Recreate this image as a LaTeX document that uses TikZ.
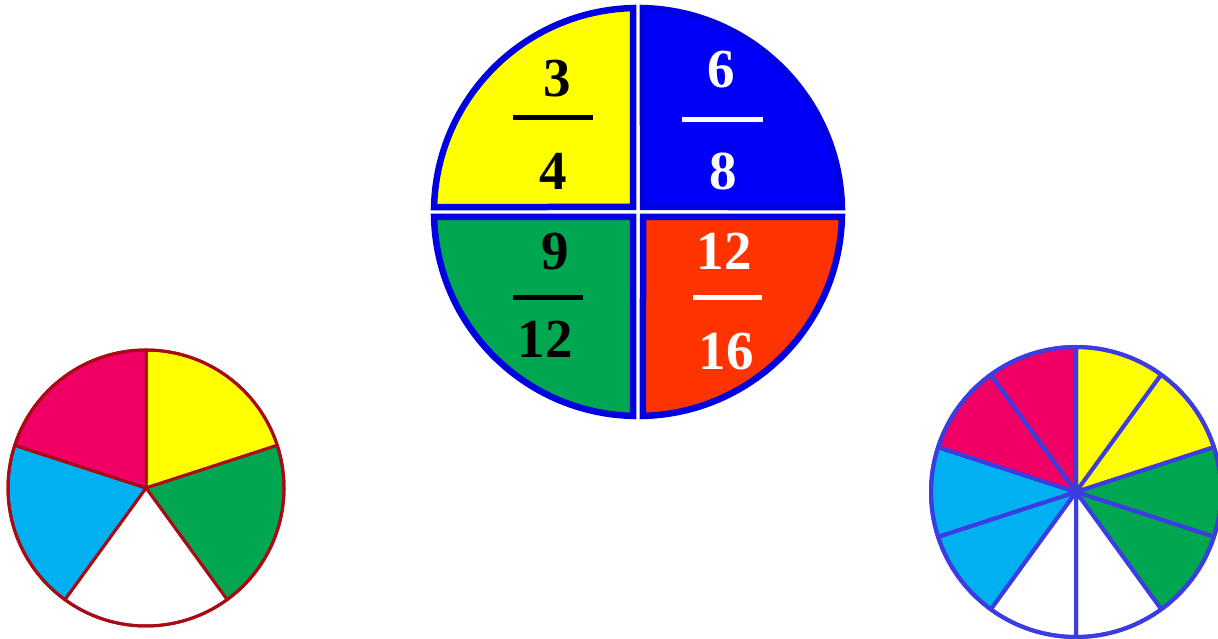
\documentclass[tikz,border=0pt]{standalone}
\usepackage{fontspec}
\setmainfont{Liberation Serif}
\definecolor{qyellow}{RGB}{255,255,0}
\definecolor{qblue}{RGB}{0,0,250}
\definecolor{qborder}{RGB}{0,0,225}
\definecolor{qgreen}{RGB}{0,166,80}
\definecolor{qred}{RGB}{255,51,0}
\definecolor{qpink}{RGB}{240,0,100}
\definecolor{qsky}{RGB}{0,176,240}
\definecolor{qdred}{RGB}{170,10,20}
\definecolor{qviolet}{RGB}{60,60,225}
\tikzset{
  quarter/.style={draw=qborder, line width=6.5pt},
  lsec/.style={draw=qdred, line width=3pt, line join=round},
  rsec/.style={draw=qviolet, line width=4pt, line join=round},
  num/.style={anchor=base, inner sep=0pt, font=\fontsize{55}{55}\selectfont\bfseries},
  bar/.style={line width=4.5pt}
}
\begin{document}
\begin{tikzpicture}[x=1pt,y=1pt]
\useasboundingbox (0,0) rectangle (1218,639);
% centre circle
\begin{scope}[shift={(638,427)}]
\filldraw[quarter, fill=qyellow] (-5,5) -- (91.4:204) arc[start angle=91.4, end angle=178.6, radius=204] -- cycle;
\filldraw[quarter, fill=qblue] (5,5) -- (1.4:204) arc[start angle=1.4, end angle=88.6, radius=204] -- cycle;
\filldraw[quarter, fill=qgreen] (-5,-5) -- (181.4:204) arc[start angle=181.4, end angle=268.6, radius=204] -- cycle;
\filldraw[quarter, fill=qred] (5,-5) -- (271.4:204) arc[start angle=271.4, end angle=358.6, radius=204] -- cycle;
\end{scope}
% fractions
\node[num, text=black] (n3) at (557,542) {3};
\draw[bar, black] (513,521.5) -- (593,521.5);
\node[num, text=black] (d4) at (553,449) {4};
\node[num, text=white] (n6) at (721,551) {6};
\draw[bar, white] (682,519.5) -- (763,519.5);
\node[num, text=white] (d8) at (723,449) {8};
\node[num, text=black] (n9) at (555,369) {9};
\draw[bar, black] (513,341.5) -- (583,341.5);
\node[num, text=black] (d12) at (545,281) {12};
\node[num, text=white] (n12) at (724,369) {12};
\draw[bar, white] (693,341.5) -- (762,341.5);
\node[num, text=white] (d16) at (726,269) {16};
% left circle (fifths)
\begin{scope}[shift={(146,151)}]
\filldraw[lsec, fill=qyellow] (0,0) -- (18:138) arc[start angle=18, end angle=90, radius=138] -- cycle;
\filldraw[lsec, fill=qgreen] (0,0) -- (-54:138) arc[start angle=-54, end angle=18, radius=138] -- cycle;
\filldraw[lsec, fill=white] (0,0) -- (-126:138) arc[start angle=-126, end angle=-54, radius=138] -- cycle;
\filldraw[lsec, fill=qsky] (0,0) -- (162:138) arc[start angle=162, end angle=234, radius=138] -- cycle;
\filldraw[lsec, fill=qpink] (0,0) -- (90:138) arc[start angle=90, end angle=162, radius=138] -- cycle;
\draw[lsec] (0,0) circle[radius=138];
\end{scope}
% right circle (tenths)
\begin{scope}[shift={(1076,147)}]
\filldraw[rsec, fill=qyellow] (0,0) -- (54:145) arc[start angle=54, end angle=90, radius=145] -- cycle;
\filldraw[rsec, fill=qyellow] (0,0) -- (18:145) arc[start angle=18, end angle=54, radius=145] -- cycle;
\filldraw[rsec, fill=qgreen] (0,0) -- (-18:145) arc[start angle=-18, end angle=18, radius=145] -- cycle;
\filldraw[rsec, fill=qgreen] (0,0) -- (-54:145) arc[start angle=-54, end angle=-18, radius=145] -- cycle;
\filldraw[rsec, fill=white] (0,0) -- (-90:145) arc[start angle=-90, end angle=-54, radius=145] -- cycle;
\filldraw[rsec, fill=white] (0,0) -- (-126:145) arc[start angle=-126, end angle=-90, radius=145] -- cycle;
\filldraw[rsec, fill=qsky] (0,0) -- (198:145) arc[start angle=198, end angle=234, radius=145] -- cycle;
\filldraw[rsec, fill=qsky] (0,0) -- (162:145) arc[start angle=162, end angle=198, radius=145] -- cycle;
\filldraw[rsec, fill=qpink] (0,0) -- (126:145) arc[start angle=126, end angle=162, radius=145] -- cycle;
\filldraw[rsec, fill=qpink] (0,0) -- (90:145) arc[start angle=90, end angle=126, radius=145] -- cycle;
\draw[rsec] (0,0) circle[radius=145];
\end{scope}
\end{tikzpicture}
\end{document}
